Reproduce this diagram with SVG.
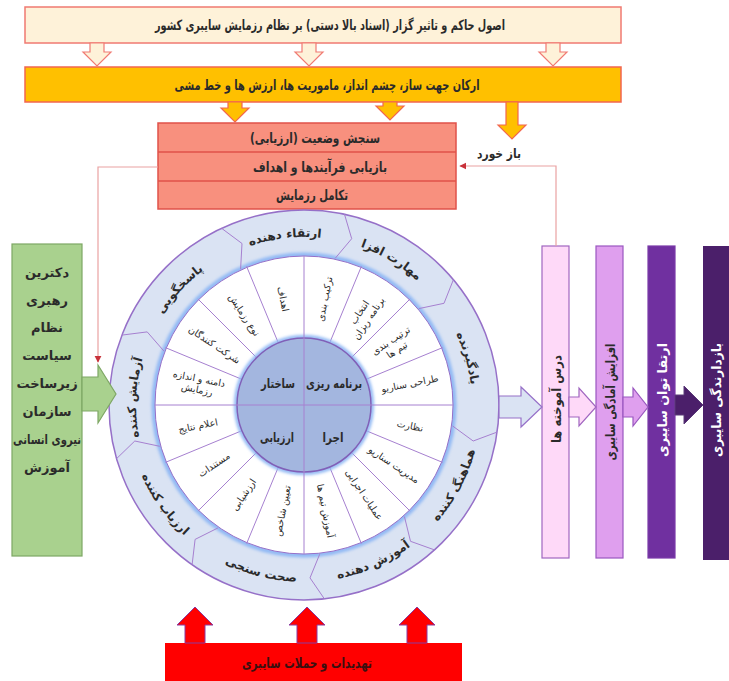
<svg xmlns="http://www.w3.org/2000/svg" width="729" height="681" viewBox="0 0 729 681">
<defs>
<style>
text{font-family:'DejaVu Sans','Noto Sans',sans-serif;fill:#2b2b2b;}
.b{font-weight:bold;font-size:13px;}
.L{font-size:14px;}
.m{font-size:9.5px;}
.c{text-anchor:middle;}
.w{fill:#ffffff;}
.hollow{fill:#fef2d9;stroke:#f07a72;stroke-width:1.2;}
.orng{fill:#ffc000;stroke:#f2664f;stroke-width:1.2;}
.spoke{stroke:#a680d0;stroke-width:1;fill:none;}
.sep{stroke:#a680d0;stroke-width:1;fill:none;}
.fb{stroke:#eaa2a2;stroke-width:1.2;fill:none;}
.ring{font-weight:bold;font-size:12px;}
</style>
<marker id="ah" viewBox="0 0 10 10" refX="9" refY="5" markerWidth="6" markerHeight="6" orient="auto">
<path d="M0,0 L10,5 L0,10 z" fill="#c8323a"/>
</marker>
<filter id="glow" x="-20%" y="-20%" width="140%" height="140%"><feGaussianBlur stdDeviation="1.6"/></filter>
<path id="p1" d="M231.7,253.4 A168,168 0 0 1 340.4,241.0"/>
<path id="p2" d="M338.9,240.7 A168,168 0 0 1 432.7,297.0"/>
<path id="p3" d="M441.6,308.6 A168,168 0 0 1 471.8,413.8"/>
<path id="p4" d="M142.9,452.7 A168,168 0 0 1 147.7,343.4"/>
<path id="p5" d="M150.5,336.7 A168,168 0 0 1 225.1,256.7"/>
<path id="p6" d="M424.7,534.5 A177,177 0 0 0 478.8,432.7"/>
<path id="p7" d="M319.4,581.3 A177,177 0 0 0 424.7,534.5"/>
<path id="p8" d="M206.3,552.6 A177,177 0 0 0 317.9,581.5"/>
<path id="p9" d="M134.3,455.3 A177,177 0 0 0 201.2,549.1"/>
</defs>
<rect width="729" height="681" fill="#ffffff"/>

<g id="top-principles">
<rect x="25" y="7" width="596" height="36" fill="#fef2d9" stroke="#f07a72" stroke-width="1.5"/>
<text class="b L c" x="330" y="30" textLength="350" lengthAdjust="spacingAndGlyphs">اصول حاکم و تاثیر گزار (اسناد بالا دستی) بر نظام رزمایش سایبری کشور</text>
</g>

<g id="pillars">
<rect x="25" y="67" width="596" height="35" fill="#ffc000" stroke="#f2664f" stroke-width="1.5"/>
<text class="b L c" x="327" y="90" textLength="305" lengthAdjust="spacingAndGlyphs">ارکان جهت ساز، چشم انداز، ماموریت ها، ارزش ها و خط مشی</text>
</g>

<g id="assessment">
<rect x="158" y="123" width="298" height="86" fill="#f8907e" stroke="#e0524a" stroke-width="1.5"/>
<line x1="158" y1="152" x2="456" y2="152" stroke="#e0524a" stroke-width="1.5"/>
<line x1="158" y1="181" x2="456" y2="181" stroke="#e0524a" stroke-width="1.5"/>
<text class="b L c" x="315" y="143" textLength="130" lengthAdjust="spacingAndGlyphs">سنجش وضعیت (ارزیابی)</text>
<text class="b L c" x="320" y="172" textLength="134" lengthAdjust="spacingAndGlyphs">بازیابی فرآیندها و اهداف</text>
<text class="b L c" x="312" y="200" textLength="72" lengthAdjust="spacingAndGlyphs">تکامل رزمایش</text>
</g>

<g id="feedback-label">
<text class="b c" x="499" y="158" textLength="44" lengthAdjust="spacingAndGlyphs">باز خورد</text>
</g>

<g id="factors">
<rect x="12" y="244" width="70" height="312" fill="#a9d18e" stroke="#7ea764" stroke-width="1.2"/>
<text class="b c" x="47" y="277">دکترین</text>
<text class="b c" x="47" y="305">رهبری</text>
<text class="b c" x="47" y="332">نظام</text>
<text class="b c" x="47" y="360">سیاست</text>
<text class="b c" x="47" y="388">زیرساخت</text>
<text class="b c" x="47" y="416">سازمان</text>
<text class="b c" x="47" y="444" textLength="68" lengthAdjust="spacingAndGlyphs">نیروی انسانی</text>
<text class="b c" x="47" y="472">آموزش</text>
</g>

<g id="wheel">
<circle cx="304" cy="405" r="195" fill="#dae3f3" stroke="#9670c8" stroke-width="1.5"/>
<circle cx="304" cy="405" r="150" fill="none" stroke="#8fb8f4" stroke-width="5" filter="url(#glow)"/>
<circle cx="304" cy="405" r="149" fill="#ffffff" stroke="#9670c8" stroke-width="1"/>
<g class="sep">
<polyline points="344.5,214.3 351.7,238.7 335.2,258.3"/>
<polyline points="453.4,279.7 444.0,303.3 418.9,308.6"/>
<polyline points="497.1,432.1 473.2,441.0 452.5,425.9"/>
<polyline points="434.5,549.9 410.5,541.3 404.4,516.5"/>
<polyline points="324.4,598.9 310.0,577.9 319.7,554.2"/>
<polyline points="192.1,564.7 195.1,539.4 218.0,527.9"/>
<polyline points="116.5,458.7 134.8,441.0 159.8,446.3"/>
<polyline points="121.9,335.1 147.2,331.9 164.0,351.2"/>
<polyline points="221.6,228.3 242.0,243.5 240.6,269.1"/>
</g>
<g class="spoke">
<line x1="329.6" y1="343.1" x2="361.4" y2="266.4"/>
<line x1="351.4" y1="357.6" x2="410.1" y2="298.9"/>
<line x1="365.9" y1="379.4" x2="442.6" y2="347.6"/>
<line x1="365.9" y1="430.6" x2="442.6" y2="462.4"/>
<line x1="351.4" y1="452.4" x2="410.1" y2="511.1"/>
<line x1="329.6" y1="466.9" x2="361.4" y2="543.6"/>
<line x1="278.4" y1="466.9" x2="246.6" y2="543.6"/>
<line x1="256.6" y1="452.4" x2="197.9" y2="511.1"/>
<line x1="242.1" y1="430.6" x2="165.4" y2="462.4"/>
<line x1="242.1" y1="379.4" x2="165.4" y2="347.6"/>
<line x1="256.6" y1="357.6" x2="197.9" y2="298.9"/>
<line x1="278.4" y1="343.1" x2="246.6" y2="266.4"/>
</g>
<circle cx="304" cy="405" r="68" fill="none" stroke="#8fb8f4" stroke-width="4" filter="url(#glow)"/>
<circle cx="304" cy="405" r="67" fill="#a3b6df" stroke="#8060b8" stroke-width="1.5"/>
<g class="spoke">
<line x1="304" y1="256" x2="304" y2="554"/>
<line x1="155" y1="405" x2="453" y2="405"/>
</g>
<text class="b c" x="278" y="388" textLength="34" lengthAdjust="spacingAndGlyphs">ساختار</text>
<text class="b c" x="334" y="388" textLength="56" lengthAdjust="spacingAndGlyphs">برنامه ریزی</text>
<text class="b c" x="277" y="442" textLength="34" lengthAdjust="spacingAndGlyphs">ارزیابی</text>
<text class="b c" x="333" y="442" textLength="21" lengthAdjust="spacingAndGlyphs">اجرا</text>

<g class="m c">
<text transform="translate(325.1,299.1) rotate(-78.75)" dy="3">ترکیب بندی</text>
<text transform="translate(364.0,315.2) rotate(-56.25)"><tspan x="0" dy="-2">انتخاب</tspan><tspan x="0" dy="11">برنامه ریزان</tspan></text>
<text transform="translate(393.8,345.0) rotate(-33.75)"><tspan x="0" dy="-2">ترتیب بندی</tspan><tspan x="0" dy="11">تیم ها</tspan></text>
<text transform="translate(409.9,383.9) rotate(-11.25)" dy="3">طراحی سناریو</text>
<text transform="translate(409.9,426.1) rotate(11.25)" dy="3">نظارت</text>
<text transform="translate(393.8,465.0) rotate(33.75)" dy="3">مدیریت سناریو</text>
<text transform="translate(364.0,494.8) rotate(56.25)" dy="3">عملیات اجرایی</text>
<text transform="translate(325.1,510.9) rotate(78.75)" dy="3">آموزش تیم ها</text>
<text transform="translate(282.9,510.9) rotate(-78.75)" dy="3">تعیین شاخص</text>
<text transform="translate(244.0,494.8) rotate(-56.25)" dy="3">ارزشیابی</text>
<text transform="translate(214.2,465.0) rotate(-33.75)" dy="3">مستندات</text>
<text transform="translate(198.1,426.1) rotate(-11.25)" dy="3">اعلام نتایج</text>
<text transform="translate(198.1,383.9) rotate(11.25)"><tspan x="0" dy="-2">دامنه و اندازه</tspan><tspan x="0" dy="11">رزمایش</tspan></text>
<text transform="translate(214.2,345.0) rotate(33.75)" dy="3">شرکت کنندگان</text>
<text transform="translate(244.0,315.2) rotate(56.25)" dy="3">نوع رزمایش</text>
<text transform="translate(282.9,299.1) rotate(78.75)" dy="3">اهداف</text>
</g>

<g class="ring">
<text><textPath href="#p1" startOffset="50%" text-anchor="middle">ارتقاء دهنده</textPath></text>
<text><textPath href="#p2" startOffset="50%" text-anchor="middle">مهارت افزا</textPath></text>
<text><textPath href="#p3" startOffset="50%" text-anchor="middle">یادگیرنده</textPath></text>
<text><textPath href="#p4" startOffset="50%" text-anchor="middle">آزمایش کننده</textPath></text>
<text><textPath href="#p5" startOffset="50%" text-anchor="middle">پاسخگویی</textPath></text>
<text><textPath href="#p6" startOffset="50%" text-anchor="middle">هماهنگ کننده</textPath></text>
<text><textPath href="#p7" startOffset="50%" text-anchor="middle">آموزش دهنده</textPath></text>
<text><textPath href="#p8" startOffset="50%" text-anchor="middle">صحت سنجی</textPath></text>
<text><textPath href="#p9" startOffset="50%" text-anchor="middle">ارزیاب کننده</textPath></text>
</g>
</g>

<g id="lessons">
<rect x="542" y="246" width="27" height="312" fill="#fed9f8" stroke="#a066c0" stroke-width="1.2"/>
<text class="b c" transform="translate(556,399) rotate(-90)" dy="5" textLength="88" lengthAdjust="spacingAndGlyphs">درس آموخته ها</text>
</g>
<g id="readiness">
<rect x="596" y="246" width="27" height="312" fill="#df9fee" stroke="#9a58c0" stroke-width="1.2"/>
<text class="b c" transform="translate(610,402) rotate(-90)" dy="5" textLength="117" lengthAdjust="spacingAndGlyphs">افزایش آمادگی سایبری</text>
</g>
<g id="capability">
<rect x="648" y="246" width="27" height="312" fill="#7030a0" stroke="#7a3aa8" stroke-width="1.2"/>
<text class="b c w" transform="translate(662,400) rotate(-90)" dy="5" textLength="114" lengthAdjust="spacingAndGlyphs">ارتقا توان سایبری</text>
</g>
<g id="deterrence">
<rect x="703" y="246" width="26" height="314" fill="#4b1f6a"/>
<text class="b c w" transform="translate(716,400) rotate(-90)" dy="5" textLength="114" lengthAdjust="spacingAndGlyphs">بازدارندگی سایبری</text>
</g>

<g id="threats">
<rect x="165" y="643" width="297" height="38" fill="#ff0000"/>
<text class="b L c" x="307" y="668" style="fill:#3a1010" textLength="130" lengthAdjust="spacingAndGlyphs">تهدیدات و حملات سایبری</text>
</g>

<g id="connectors">
<polygon class="hollow" points="90,43 104,43 104,52 111,52 97,66 83,52 90,52"/>
<polygon class="hollow" points="302,43 316,43 316,52 323,52 309,66 295,52 302,52"/>
<polygon class="hollow" points="546,43 560,43 560,52 567,52 553,66 539,52 546,52"/>
<polygon class="orng" points="228,102 242,102 242,108 249,108 235,122 221,108 228,108"/>
<polygon class="orng" points="383,102 397,102 397,106 404,106 390,120 376,106 383,106"/>
<polygon class="orng" points="506,102 518,102 518,125 526,125 512,139 498,125 506,125"/>
<polyline class="fb" points="556,246 556,166 460,166" marker-end="url(#ah)"/>
<polyline class="fb" points="158,167 98,167 98,362" marker-end="url(#ah)"/>
<polygon points="82,377 98,377 98,365 116,394 98,423 98,411 82,411" fill="#a9d18e" stroke="#7ea764" stroke-width="1.2"/>
<polygon points="499,396 521,396 521,387 542,407 521,427 521,418 499,418" fill="#dae3f3" stroke="#9670c8" stroke-width="1.2"/>
<polygon points="569,397 579,397 579,388 596,407 579,426 579,417 569,417" fill="#fed9f8" stroke="#a066c0" stroke-width="1.2"/>
<polygon points="623,397 633,397 633,388 648,407 633,426 633,417 623,417" fill="#df9fee" stroke="#9a58c0" stroke-width="1.2"/>
<polygon points="675,395 684,395 684,386 703,405 684,424 684,415 675,415" fill="#4b1f6a" stroke="#5a3a78" stroke-width="1"/>
<polygon points="185,643 205,643 205,625 213,625 195,607 177,625 185,625" fill="#ff0000" stroke="#8a3aa0" stroke-width="1"/>
<polygon points="297,643 317,643 317,625 325,625 307,607 289,625 297,625" fill="#ff0000" stroke="#8a3aa0" stroke-width="1"/>
<polygon points="407,643 427,643 427,625 435,625 417,607 399,625 407,625" fill="#ff0000" stroke="#8a3aa0" stroke-width="1"/>
</g>
</svg>
